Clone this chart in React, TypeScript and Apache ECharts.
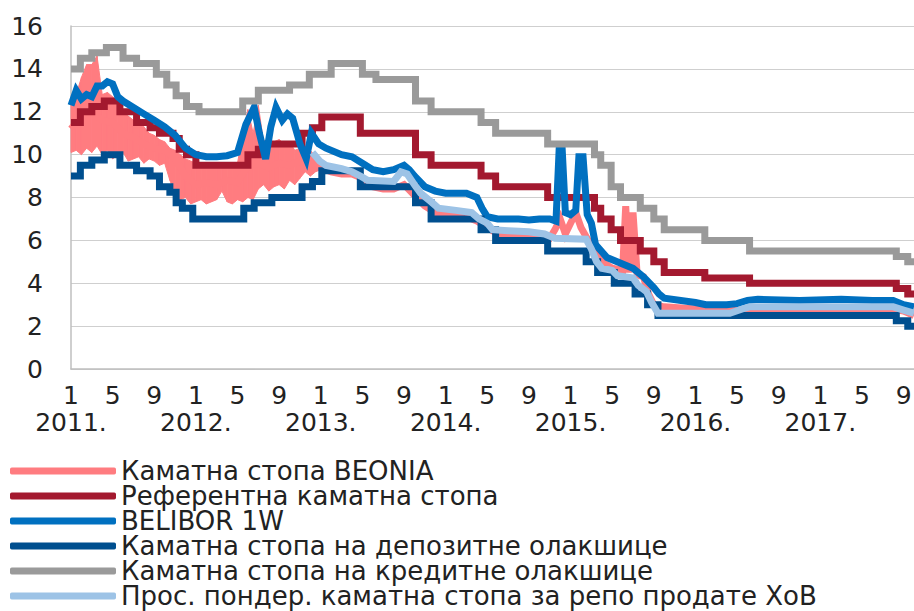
import { useEffect, useRef } from 'react';
import * as echarts from 'echarts';

// Legend / series names
const seriesNames = [
  'Каматна стопа BEONIA',
  'Референтна каматна стопа',
  'BELIBOR 1W',
  'Каматна стопа на депозитне олакшице',
  'Каматна стопа на кредитне олакшице',
  'Прос. пондер. каматна стопа за репо продате ХоВ',
];

// x = months since January 2011 (0 = Jan 2011, 81 = Oct 2017)
const monthTickLabels = ['1', '5', '9'];
const yearLabels = ['2011.', '2012.', '2013.', '2014.', '2015.', '2016.', '2017.'];

// Reference (policy) rate – change points [month, %]
const refRate: [number, number][] = [
  [0, 11.5], [0.9, 12.0], [2, 12.25], [3.2, 12.5], [4.7, 12.0], [6.3, 11.5], [7.6, 11.25],
  [8.5, 11.0], [9.8, 10.75], [10.4, 10.25], [11.1, 10.0], [12, 9.5], [17, 10.0], [18, 10.25],
  [18.7, 10.5], [22.2, 11.0], [23.2, 11.25], [24.1, 11.75], [27.8, 11.0], [33.1, 10.0],
  [34.6, 9.5], [39.4, 9.0], [40.8, 8.5], [45.8, 8.0], [50.3, 7.5], [50.9, 7.0], [51.9, 6.5],
  [52.8, 6.0], [54.7, 5.5], [56, 5.0], [57, 4.5], [60.9, 4.25], [65.2, 4.0], [79.3, 3.75],
  [80.4, 3.5], [81, 3.5],
];

// Deposit facility rate – change points
const depositRate: [number, number][] = [
  [0, 9.0], [0.9, 9.5], [2, 9.75], [3.2, 10.0], [4.7, 9.5], [6.3, 9.25], [7.6, 9.0],
  [8.5, 8.5], [9.5, 8.25], [10.1, 7.75], [10.7, 7.5], [11.7, 7.0], [16.6, 7.5], [17.6, 7.75],
  [19.3, 8.0], [22.2, 8.5], [23.2, 8.75], [24.1, 9.25], [27.8, 8.5], [33.1, 7.75],
  [34.6, 7.0], [39.4, 6.5], [40.8, 6.0], [45.8, 5.5], [49.5, 5.0], [50.6, 4.5], [52.2, 4.0],
  [54.2, 3.5], [55.4, 3.0], [56.4, 2.5], [79.3, 2.25], [80.4, 2.0], [81, 2.0],
];

// Lending (credit) facility rate – change points
const creditRate: [number, number][] = [
  [0, 14.0], [0.9, 14.5], [2, 14.75], [3.4, 15.0], [5, 14.5], [6.3, 14.25], [8.2, 13.75],
  [9.2, 13.25], [10.1, 12.75], [11.1, 12.25], [12.3, 12.0], [16.5, 12.5], [18, 13.0],
  [21, 13.25], [22.9, 13.75], [25, 14.25], [28, 13.75], [29.3, 13.5], [33.1, 12.5],
  [34.6, 12.0], [39.4, 11.5], [40.8, 11.0], [45.8, 10.5], [50.3, 10.0], [50.9, 9.5],
  [51.9, 8.5], [52.8, 8.0], [54.7, 7.5], [56, 7.0], [57, 6.5], [60.9, 6.0], [65.2, 5.5],
  [79.3, 5.25], [80.4, 5.0], [81, 5.0],
];

// BELIBOR 1W
const belibor: [number, number][] = [
  [0, 12.3], [0.5, 13.0], [1, 12.6], [1.5, 12.8], [2, 12.7], [2.5, 13.2], [3, 13.2], [3.5, 13.4],
  [4, 13.3], [4.5, 12.7], [5, 12.5], [6, 12.2], [7, 11.9], [8, 11.6], [9, 11.3], [10, 10.9],
  [11, 10.3], [12, 10.0], [13, 9.9], [14, 9.9], [15, 9.95], [16, 10.1], [16.8, 11.4],
  [17.6, 12.2], [18.1, 11.0], [18.7, 9.8], [19.2, 11.3], [19.7, 12.2], [20.3, 11.6],
  [20.8, 11.9], [21.3, 11.7], [22, 10.5], [22.6, 9.8], [23.1, 11.0], [23.8, 10.5],
  [24.5, 10.3], [26, 10.0], [27, 9.9], [28, 9.6], [29, 9.3], [30, 9.2], [31, 9.3], [32, 9.5],
  [32.5, 9.3], [33, 9.0], [34, 8.5], [35, 8.3], [36, 8.2], [37, 8.2], [38, 8.2], [39, 8.0],
  [39.5, 7.5], [40, 7.1], [41, 7.0], [42, 7.0], [43, 7.0], [44, 6.95], [45, 7.0], [46, 7.0],
  [46.6, 6.9], [46.9, 10.2], [47.2, 10.2], [47.5, 7.3], [48, 7.2], [48.5, 7.4], [48.8, 9.9],
  [49.2, 9.9], [49.6, 7.2], [50, 6.8], [50.4, 5.8], [51.5, 5.2], [53, 4.9], [54, 4.7],
  [55, 4.3], [56, 3.8], [56.5, 3.5], [57, 3.3], [60, 3.1], [61, 3.0], [63, 3.0], [64, 3.05],
  [65, 3.2], [66, 3.25], [70, 3.2], [74, 3.25], [77, 3.2], [79, 3.2], [80, 3.0], [81, 2.9],
];

// Weighted average repo rate
const repoRate: [number, number][] = [
  [23.2, 10.1], [23.9, 9.7], [24.5, 9.5], [26, 9.35], [27, 9.2], [27.8, 9.0], [28.5, 8.8],
  [31, 8.75], [31.7, 9.2], [32.3, 9.1], [33, 8.6], [33.6, 8.2], [34.6, 7.8], [35.3, 7.5],
  [37, 7.4], [38.5, 7.3], [39.2, 7.0], [40, 6.8], [40.5, 6.5], [42, 6.45], [44, 6.4],
  [45.5, 6.3], [46.5, 6.1], [49.5, 6.05], [50, 5.6], [50.5, 5.0], [51, 4.7], [52, 4.6],
  [52.5, 4.35], [54, 4.25], [54.5, 3.9], [55.3, 3.6], [55.8, 3.1], [56.4, 2.6], [60, 2.6],
  [63.3, 2.6], [64.5, 2.8], [65.2, 2.9], [72, 2.9], [79, 2.9], [80, 2.75], [81, 2.6],
];

// BEONIA (overnight) – typical values
const beonia: [number, number][] = [
  [0, 11.2], [1, 11.8], [2, 12.0], [3, 11.6], [4, 11.5], [5, 11.0], [6, 10.8], [7, 10.5],
  [8, 10.3], [9, 10.2], [10, 9.8], [11, 9.0], [12, 8.6], [13, 8.7], [14, 8.6], [15, 8.8],
  [16, 8.7], [17, 9.5], [18, 9.6], [19, 9.4], [20, 9.6], [21, 9.5], [22, 9.7], [23, 9.6],
  [24, 9.4], [25, 9.2], [26, 9.1], [27, 9.1], [28, 8.9], [29, 8.5], [30, 8.4], [31, 8.4],
  [32, 8.6], [33, 8.1], [34, 7.6], [35, 7.3], [36, 7.2], [37, 7.2], [38, 7.1], [39, 6.9],
  [40, 6.6], [41, 6.3], [42, 6.25], [43, 6.2], [44, 6.2], [45, 6.15], [46, 6.1], [46.5, 6.5],
  [47, 7.0], [47.5, 6.3], [48, 6.8], [48.5, 7.3], [49, 6.6], [49.7, 6.0], [50.3, 5.6],
  [51, 5.0], [52, 4.7], [53, 4.6], [53.3, 7.6], [53.6, 4.5], [54, 7.3], [54.4, 4.4], [55, 4.3],
  [55.5, 3.5], [56, 3.0], [57, 2.9], [60, 2.8], [63, 2.7], [65, 2.8], [79, 2.8], [80, 2.7],
  [81, 2.5],
];

// BEONIA daily range 2011–2012, half-month steps (index * 0.5 = month)
const beoniaHigh = [
  12.6, 12.8, 13.6, 14.2, 14.2, 14.6, 12.8, 12.9, 12.7, 12.4, 12.0, 11.8, 11.6, 11.4, 11.3,
  11.0, 10.9, 10.7, 10.6, 10.3, 10.2, 10.0, 9.8, 9.7, 9.6, 9.5, 9.5, 9.4, 9.5, 9.4, 9.5, 9.5,
  9.6, 11.0, 12.1, 11.0, 12.3, 10.6, 10.5, 10.6, 10.7, 10.5, 10.6, 10.2, 10.3, 10.4, 10.2,
  9.9, 9.6,
];
const beoniaLow = [
  10.1, 10.2, 10.0, 10.3, 10.1, 10.4, 10.0, 10.2, 9.8, 10.0, 10.1, 9.7, 9.8, 9.9, 9.6, 9.8,
  9.7, 9.5, 9.6, 8.8, 8.2, 7.9, 8.0, 7.7, 7.8, 7.9, 7.7, 7.8, 7.9, 8.3, 7.8, 7.7, 7.9, 7.8,
  8.0, 7.9, 8.4, 8.6, 8.3, 8.5, 8.6, 8.4, 8.8, 8.6, 8.9, 9.2, 9.0, 9.2, 9.3,
];

const colors = ['#FF7C80', '#A3192F', '#0070C0', '#004F8F', '#9A9A9A', '#9DC3E6'];
const FONT = 'DejaVu Sans';
const TEXT = '#222222';

export default function App() {
  const ref = useRef<HTMLDivElement>(null);

  useEffect(() => {
    const chart = echarts.init(ref.current!, null, { renderer: 'svg' });
    const lineW = 7;
    const mk = (name: string, data: [number, number][], color: string, step?: string) => ({
      name,
      type: 'line',
      xAxisIndex: 0,
      data,
      step: step || false,
      showSymbol: false,
      symbol: 'none',
      color,
      lineStyle: { color, width: lineW, cap: 'butt', join: 'miter' },
    });

    // band segments: [x0, low0, high0, x1, low1, high1]
    const bandSegments: number[][] = [];
    for (let i = 0; i < beoniaHigh.length - 1; i++) {
      bandSegments.push([
        i * 0.5, beoniaLow[i], beoniaHigh[i],
        (i + 1) * 0.5, beoniaLow[i + 1], beoniaHigh[i + 1],
      ]);
    }

    const baseX = {
      type: 'value',
      min: 0,
      max: 81,
      position: 'bottom',
      splitLine: { show: false },
      axisTick: { show: false },
    };

    const option: any = {
      animation: false,
      backgroundColor: '#ffffff',
      grid: { left: 71, right: 0, top: 26, bottom: 242, containLabel: false, outerBoundsMode: 'none' },
      legend: {
        data: seriesNames,
        orient: 'vertical',
        left: 10,
        top: 458,
        icon: 'roundRect',
        itemWidth: 106,
        itemHeight: 7,
        itemGap: -1,
        padding: 0,
        textStyle: { fontFamily: FONT, fontSize: 26, color: TEXT },
      },
      xAxis: [
        {
          ...baseX,
          interval: 4,
          axisLine: { show: true, lineStyle: { color: '#BFBFBF', width: 1.5 } },
          axisLabel: {
            margin: 14,
            showMinLabel: true,
            showMaxLabel: false,
            hideOverlap: false,
            fontFamily: FONT,
            fontSize: 25,
            color: TEXT,
            formatter: (v: number) => {
              if (v % 4 !== 0 || v > 80) return '';
              return monthTickLabels[(v % 12) / 4];
            },
          },
        },
        {
          ...baseX,
          interval: 12,
          offset: 27,
          axisLine: { show: false },
          axisLabel: {
            margin: 14,
            showMinLabel: true,
            showMaxLabel: false,
            hideOverlap: false,
            fontFamily: FONT,
            fontSize: 25,
            color: TEXT,
            formatter: (v: number) => {
              if (v % 12 !== 0 || v > 80) return '';
              return yearLabels[v / 12];
            },
          },
        },
      ],
      yAxis: {
        type: 'value',
        min: 0,
        max: 16,
        interval: 2,
        axisTick: { show: false },
        axisLine: { show: true, lineStyle: { color: '#BFBFBF', width: 1.5 } },
        splitLine: { lineStyle: { color: '#CFCFCF', width: 1.2 } },
        axisLabel: { margin: 28, fontFamily: FONT, fontSize: 25, color: TEXT },
      },
      series: [
        {
          name: 'beoniaBand',
          type: 'custom',
          xAxisIndex: 0,
          data: bandSegments,
          encode: { x: [0, 3], y: [1, 2, 4, 5] },
          silent: true,
          renderItem: (_params: any, api: any) => {
            const x0 = api.value(0);
            const x1 = api.value(3);
            const pts = [
              api.coord([x0, api.value(1)]),
              api.coord([x0, api.value(2)]),
              api.coord([x1, api.value(5)]),
              api.coord([x1, api.value(4)]),
            ];
            return {
              type: 'polygon',
              shape: { points: pts },
              style: { fill: colors[0], stroke: colors[0], lineWidth: 1 },
            };
          },
        },
        mk(seriesNames[0], beonia, colors[0]),
        mk(seriesNames[1], refRate, colors[1], 'end'),
        mk(seriesNames[2], belibor, colors[2]),
        mk(seriesNames[3], depositRate, colors[3], 'end'),
        mk(seriesNames[4], creditRate, colors[4], 'end'),
        mk(seriesNames[5], repoRate, colors[5]),
      ],
    };
    chart.setOption(option);
    return () => chart.dispose();
  }, []);

  return (
    <div
      ref={ref}
      style={{ position: 'absolute', left: 0, top: 0, width: 914, height: 611 }}
    />
  );
}
